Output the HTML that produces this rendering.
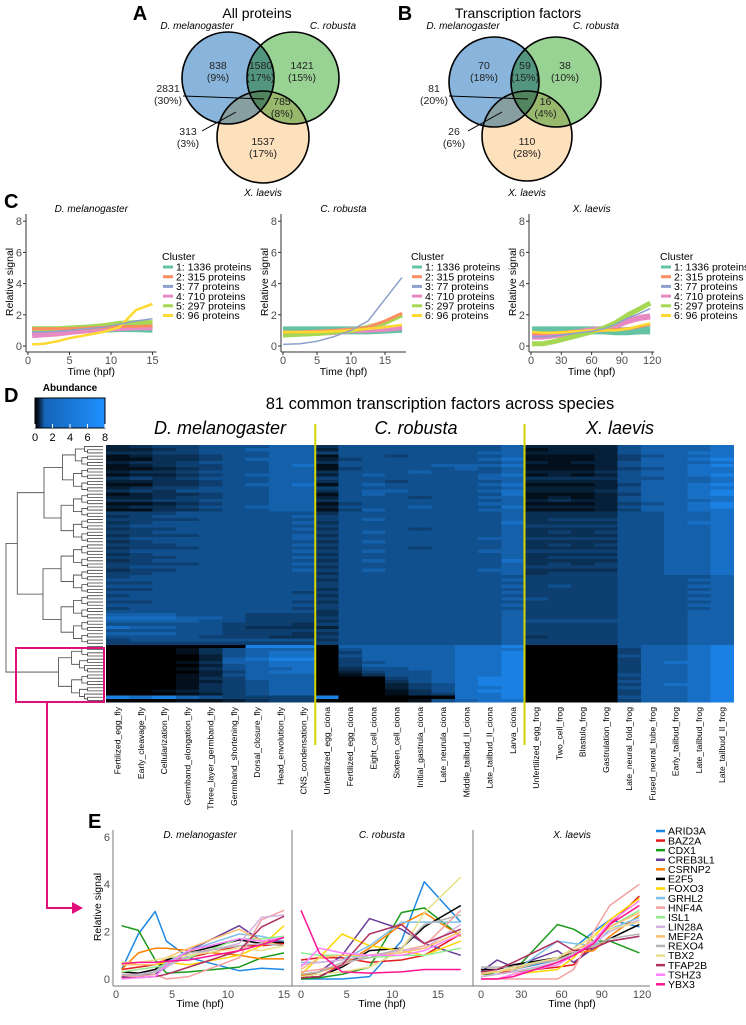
<!DOCTYPE html>
<html><head><meta charset="utf-8"><style>
body{margin:0;background:#fff;width:746px;height:1020px;overflow:hidden}
svg{font-family:"Liberation Sans",sans-serif}
</style></head><body>
<svg id="fig" width="746" height="1020" viewBox="0 0 746 1020" xmlns="http://www.w3.org/2000/svg">
<defs>
<linearGradient id="abgrad" x1="0" x2="1" y1="0" y2="0">
<stop offset="0" stop-color="#000"/><stop offset="0.05" stop-color="#061a33"/><stop offset="0.14" stop-color="#1565b8"/><stop offset="1" stop-color="#1e90ff"/>
</linearGradient>
</defs>
<g id="venns"></g>
<g id="panelC"></g>
<g id="panelD"></g>
<g id="panelE"></g>
</svg>
<script>
// ---------- DATA ----------
const vennA = ["838\n(9%)","1580\n(17%)","1421\n(15%)","2831\n(30%)","785\n(8%)","313\n(3%)","1537\n(17%)"];
const vennB = ["70\n(18%)","59\n(15%)","38\n(10%)","81\n(20%)","16\n(4%)","26\n(6%)","110\n(28%)"];
const clusterNames = ["1: 1336 proteins","2: 315 proteins","3: 77 proteins","4: 710 proteins","5: 297 proteins","6: 96 proteins"];
const flyTimeC = [0.5,2,3.5,5,7,9,11,13,15];
const flyClusters = [
 [1.0,1.0,1.0,1.05,1.1,1.1,1.15,1.15,1.1],
 [1.1,1.1,1.1,1.1,1.15,1.2,1.25,1.25,1.3],
 [0.9,0.9,0.95,1.0,1.1,1.2,1.4,1.6,1.75],
 [0.7,0.75,0.8,0.9,1.0,1.1,1.15,1.2,1.2],
 [1.1,1.1,1.1,1.15,1.2,1.3,1.45,1.5,1.5],
 [0.1,0.15,0.3,0.5,0.7,0.9,1.2,2.3,2.7]];
const cionaTimeC = [0,2.5,5,7.5,10,12.5,15,17.5];
const cionaClusters = [
 [1.0,1.0,1.0,1.0,1.0,1.0,1.05,1.1],
 [0.9,0.9,0.95,1.0,1.05,1.2,1.6,2.1],
 [0.1,0.15,0.3,0.6,1.0,1.6,3.0,4.4],
 [0.8,0.8,0.85,0.9,1.0,1.05,1.1,1.2],
 [0.7,0.75,0.8,0.9,1.0,1.2,1.5,2.0],
 [0.9,0.9,0.9,0.95,1.0,1.1,1.2,1.35]];
const frogTimeC = [1,12,24,36,48,60,72,84,96,108,118];
const frogClusters = [
 [1.0,1.0,1.0,1.0,1.0,1.0,1.0,0.95,0.95,1.0,1.0],
 [0.8,0.8,0.85,0.9,0.95,1.0,1.0,1.05,1.1,1.25,1.4],
 [0.6,0.6,0.65,0.75,0.85,0.95,1.1,1.4,1.8,2.1,2.4],
 [0.6,0.6,0.7,0.8,0.9,1.0,1.1,1.3,1.6,1.8,1.9],
 [0.15,0.15,0.3,0.5,0.7,0.9,1.15,1.5,2.0,2.4,2.75],
 [0.9,0.85,0.85,0.9,0.95,1.0,1.0,1.0,1.1,1.3,1.45]];
const yTicksC = [0,2,4,6,8];
const flyTicks = [0,5,10,15];
const cionaTicks = [0,5,10,15];
const frogTicks = [0,30,60,90,120];

const colLabels = ["Fertilized_egg_fly","Early_cleavage_fly","Cellularization_fly","Germband_elongation_fly","Three_layer_germband_fly","Germband_shortening_fly","Dorsal_closure_fly","Head_envolution_fly","CNS_condensation_fly",
"Unfertilized_egg_ciona","Fertilized_egg_ciona","Eight_cell_ciona","Sixteen_cell_ciona","Initial_gastrula_ciona","Late_neurula_ciona","Middle_tailbud_II_ciona","Late_tailbud_II_ciona","Larva_ciona",
"Unfertilized_egg_frog","Two_cell_frog","Blastula_frog","Gastrulation_frog","Late_neural_fold_frog","Fused_neural_tube_frog","Early_tailbud_frog","Late_tailbud_frog","Late_tailbud_II_frog"];
const heatRows = [
"234455566355555556222256667","223455666255555556122256667","334455566455555566222256677","123345566155455556111245667",
"113345666245555567111246678","233455566355555556212256667","123445567155556667111256678","112345566145555656111245677",
"233455566355565556222356677","122345666256555567121256678","343455566455555566333355667","223345566355455556222256667",
"113345667156555567111246678","234455566455555556222256677","343555566356655567222356678","123345566156555557111246678",
"223445566255545566121256677","334455566355555556232256667","112345566145555566111245678","233455666255565557222256678",
"113345566146555566111246677","444555555355555556333355667","345555556455555556333355667","444455555456555556344455667",
"345555556355555557333355677","455555555455555556444455667","344555556355545556333355667","445555555456555556343455667",
"344455556355555556333355667","455555556455555566444455667","345555555356555556333355667","444555556455555556343455667",
"344455555355545556333355667","455555556456555566444455667","345555555355555556333355667","444555556455555556344455667",
"345555555356555557333355667","444455556455555556343455667","455555555355555556444455667","344555556456555566333355667",
"445555555355555556344455667","455555555455555555444455556","555555555355555556444455566","445555555455555555444455556",
"555555555455555556454455566","445555555355555555444455556","555555554455555556444455566","455555555355555555444455556",
"555555555455555556544455566","445555554355555555444455556","555555555455555556444455566","455555554455555555444455556",
"555555555355555556444455566","666555444355555556444455566","777665444455555556444455566","666655444355555556555555566",
"555554443455555556444455566","766554333255555556444455566","555554444455555556444455566","666554443355555556444455566",
"555544433455555556344455566","455555555355555556444455566","444444444455555556444455566",
"000000888066666778000056678","000135666056666777000046678","000135677046666778000046678","000025677056666778000056678",
"000026788046666778000046678","000136677045666778000046778","000025677046666778000046678","000135667035566778000046678",
"000024677024556778000046678","000125666013556778000056678","000134666000456788000046678","000124566000356788000056678",
"000134566000245788000046778","000134566000245778000056678","001234566000135788000046678","000124566000134778000046678",
"878654444800000778000056678","000112344000015677000046678"];
const abundTicks = [0,2,4,6,8];

const genes = ["ARID3A","BAZ2A","CDX1","CREB3L1","CSRNP2","E2F5","FOXO3","GRHL2","HNF4A","ISL1","LIN28A","MEF2A","REXO4","TBX2","TFAP2B","TSHZ3","YBX3"];
const geneColors = ["#1e88e5","#e41a1c","#1a9a1a","#6a3d9a","#ff7f00","#000000","#ffd700","#7fbfea","#f4a0a0","#90ee90","#d4b0e0","#fdbf6f","#b4b4b4","#e8e08a","#b03060","#ff80ff","#ff1493"];
const flyTimeE = [0.5,2,3.5,4.5,6.5,11,13,15];
const flyGenes = [
[0.4,1.9,2.85,1.6,0.9,0.35,0.45,0.4],[0.4,0.5,0.6,0.8,0.9,1.4,1.4,1.5],[2.25,2.05,0.8,0.25,0.3,0.5,0.9,1.1],
[0.1,0.15,0.2,0.5,1.2,2.25,1.6,1.6],[0.4,1.1,1.3,1.3,1.2,1.0,0.85,0.85],[0.3,0.25,0.4,0.8,1.1,1.65,1.5,1.55],
[0.7,0.6,0.6,0.7,0.6,1.0,1.4,2.25],[0.2,0.2,0.3,0.7,1.2,1.9,1.8,1.6],[0.15,0.1,0.2,0.0,0.1,0.9,2.5,2.9],
[0.3,0.4,0.5,0.6,0.9,1.7,1.7,1.8],[0.2,0.2,0.3,0.5,1.0,1.5,2.6,2.7],[0.6,0.6,0.6,0.9,1.3,2.1,1.6,1.4],
[0.2,0.15,0.3,0.6,1.1,1.4,1.5,1.4],[0.7,0.7,0.8,0.9,1.0,1.3,1.2,1.4],[0.05,0.05,0.1,0.2,0.5,1.2,2.2,2.65],
[0.0,0.05,0.1,0.6,1.2,1.7,1.6,1.75],[0.65,0.7,0.7,0.75,0.8,1.2,1.45,1.75]];
const cionaTimeE = [0,2,4.5,7.5,11,13.5,17.5];
const cionaGenes = [
[0.0,0.0,0.0,0.1,1.6,4.1,2.4],[0.8,0.9,0.9,0.7,0.8,1.0,1.9],[0.0,0.05,0.2,0.5,2.8,3.0,1.8],
[0.1,0.3,1.0,2.55,2.1,1.5,1.0],[0.15,0.3,0.6,1.3,2.3,2.8,1.8],[0.05,0.1,0.5,1.2,1.3,2.2,3.1],
[0.2,0.9,1.9,1.4,1.2,1.0,1.6],[0.7,0.7,0.8,1.4,2.4,2.4,2.4],[0.3,0.4,0.6,1.0,1.2,1.4,2.9],
[1.1,1.0,1.0,0.9,1.0,1.0,1.3],[0.6,0.7,0.8,1.0,1.2,1.3,2.3],[0.4,0.9,1.0,1.0,1.1,1.3,2.0],
[0.2,0.3,0.7,0.9,1.3,2.3,2.7],[0.1,0.2,0.3,0.5,1.2,2.8,4.3],[0.05,0.1,0.6,1.9,2.3,1.5,2.1],
[0.5,1.3,1.1,1.0,1.0,1.2,1.9],[2.9,1.1,0.3,0.25,0.3,0.4,0.4]];
const frogTimeE = [0,12,24,57,69,84,96,118];
const frogGenes = [
[0.2,0.3,0.4,0.8,1.3,2.0,2.5,2.2],[0.3,0.3,0.3,0.5,0.6,1.5,2.3,3.5],[0.2,0.2,0.3,2.3,2.1,1.6,1.6,1.1],
[0.3,0.8,0.5,1.2,0.7,1.3,1.6,1.8],[0.3,0.3,0.5,0.8,1.1,1.2,1.8,2.7],[0.4,0.4,0.6,0.9,1.1,1.4,1.7,2.3],
[0.0,0.0,0.2,0.4,0.9,1.8,2.5,3.4],[0.1,0.2,0.3,1.6,1.5,1.4,2.1,2.6],[0.0,0.0,0.0,0.0,0.4,2.0,3.1,4.0],
[0.1,0.2,0.3,0.6,1.0,1.6,2.2,2.9],[0.1,0.2,0.3,0.7,1.1,1.5,2.0,2.5],[0.2,0.3,0.4,0.9,1.2,1.6,2.2,2.8],
[0.5,0.5,0.5,0.8,1.1,1.4,1.7,1.9],[0.3,0.3,0.5,0.9,1.3,1.8,2.1,2.4],[0.3,0.4,0.7,1.6,1.2,1.3,1.6,1.8],
[0.0,0.0,0.2,0.6,1.0,1.6,2.4,3.3],[0.0,0.0,0.1,0.7,1.0,1.5,2.3,3.1]];
const yTicksE = [0,2,4,6];

// ---------- HELPERS ----------
const NS="http://www.w3.org/2000/svg";
function mk(parent,tag,attrs,text){const e=document.createElementNS(NS,tag);for(const k in attrs)e.setAttribute(k,attrs[k]);if(text!==undefined)e.textContent=text;parent.appendChild(e);return e;}
function txt(parent,x,y,s,size,opts){opts=opts||{};const e=mk(parent,'text',{x:x,y:y,'font-size':size,'text-anchor':opts.anchor||'middle',fill:opts.fill||'#000'},s);
 if(opts.italic)e.setAttribute('font-style','italic');if(opts.bold)e.setAttribute('font-weight','bold');if(opts.rot)e.setAttribute('transform','rotate('+opts.rot+' '+x+' '+y+')');
 
 
 return e;}

// ---------- VENN ----------
const V=document.getElementById('venns');
function venn(ox,data,circ,title,letter,letterX){
 const g=mk(V,'g',{});
 
 
 txt(g,letterX,20,letter,20,{bold:true,name:'panel-letter'});
 txt(g,ox+30,18,title,14,{name:'venn-title'});
 const cols=['#89b5dc','#99d394','#fde0bc'];
 const gg=mk(g,'g',{style:'isolation:isolate'});
 circ.forEach((c,i)=>{const e=mk(gg,'circle',{cx:c[0],cy:c[1],r:c[2],fill:cols[i],style:'mix-blend-mode:multiply'});
  
  });
 circ.forEach(c=>mk(g,'circle',{cx:c[0],cy:c[1],r:c[2],fill:'none',stroke:'#000','stroke-width':1.6}));
 const [b,gr,o]=circ;
 txt(g,b[0]-31,29,'D. melanogaster',10,{italic:true,name:'venn-label'});
 txt(g,gr[0]+40,29,'C. robusta',10,{italic:true,name:'venn-label'});
 txt(g,o[0],196,'X. laevis',10,{italic:true,name:'venn-label'});
 const pos=[[b[0]-10,69],[ (b[0]+gr[0])/2,69],[gr[0]+9,69],[b[0]-60,92],[ (gr[0]+o[0])/2+4,105],[b[0]-40,135],[o[0],145]];
 data.forEach((d,i)=>{const p=d.split('\n');txt(g,pos[i][0],pos[i][1],p[0],10.5,{fill:'#222',name:'venn-count'});txt(g,pos[i][0],pos[i][1]+12,p[1],10.5,{fill:'#222',name:'venn-pct'});});
 mk(g,'line',{x1:b[0]-45,y1:96,x2:o[0]+1,y2:99,stroke:'#000','stroke-width':1});
 mk(g,'line',{x1:b[0]-26,y1:131,x2:b[0]+8,y2:112,stroke:'#000','stroke-width':1});
}
venn(227,vennA,[[228,78,46],[293,78,46],[263,137,46]],'All proteins','A',140);
venn(488,vennB,[[494,82,45],[556,82,45],[527,136,45]],'Transcription factors','B',405);

// ---------- PANEL C ----------
const C=document.getElementById('panelC');
txt(C,4,208,'C',20,{bold:true,anchor:'start',name:'panel-letter'});
const cColors=['#66c2a5','#fc8d62','#8da0cb','#e78ac3','#a6d854','#ffd92f'];
const cWidths=[8,3,1.5,6,5,2.5];
const cOrder=[0,3,4,1,5,2];
function clusterPlot(x0,xPerUnit,xmax,times,series,ticks,title,legX){
 const g=mk(C,'g',{});
 
 
 const y0=346,ypu=15.6;
 const sx=v=>x0+v*xPerUnit, sy=v=>y0-v*ypu;
 const axL=x0-2, axR=sx(xmax)+4;
 mk(g,'line',{x1:axL,y1:214,x2:axL,y2:352,stroke:'#333','stroke-width':1});
 mk(g,'line',{x1:axL,y1:352,x2:axR,y2:352,stroke:'#333','stroke-width':1});
 yTicksC.forEach(t=>{mk(g,'line',{x1:axL-3,y1:sy(t),x2:axL,y2:sy(t),stroke:'#333'});txt(g,axL-4,sy(t)+4,String(t),11,{anchor:'end',fill:'#4d4d4d',name:'y-tick'});});
 ticks.forEach(t=>{mk(g,'line',{x1:sx(t),y1:352,x2:sx(t),y2:355,stroke:'#333'});txt(g,sx(t),364,String(t),11,{fill:'#4d4d4d',name:'x-tick'});});
 txt(g,(axL+axR)/2,375,'Time (hpf)',10.5,{name:'x-axis-title'});
 txt(g,axL-13,282,'Relative signal',10.5,{rot:-90,name:'y-axis-title'});
 txt(g,(axL+axR)/2,212,title,10,{italic:true,name:'plot-title'});
 cOrder.forEach(i=>{const d=series[i].map((v,j)=>(j?'L':'M')+sx(times[j]).toFixed(1)+','+sy(v).toFixed(1)).join('');
  const p=mk(g,'path',{d:d,fill:'none',stroke:cColors[i],'stroke-width':cWidths[i],'stroke-linejoin':'round'});
  
  });
 txt(g,legX,260,'Cluster',10.5,{anchor:'start',name:'legend-title'});
 clusterNames.forEach((n,i)=>{const y=267+i*9.7;mk(g,'line',{x1:legX+1,y1:y,x2:legX+11,y2:y,stroke:cColors[i],'stroke-width':3});
  txt(g,legX+14,y+3.7,n,10.5,{anchor:'start',name:'legend-entry'});});
}
clusterPlot(28,8.3,15,flyTimeC,flyClusters,flyTicks,'D. melanogaster',162);
clusterPlot(283,6.8,17.5,cionaTimeC,cionaClusters,cionaTicks,'C. robusta',411);
clusterPlot(531,1.01,118,frogTimeC,frogClusters,frogTicks,'X. laevis',660);

// ---------- PANEL D ----------
const D=document.getElementById('panelD');
txt(D,4,402,'D',20,{bold:true,anchor:'start',name:'panel-letter'});
txt(D,70,391,'Abundance',10,{bold:true,name:'legend-title'});
const cb=mk(D,'rect',{x:35,y:398,width:70,height:30,fill:'url(#abgrad)',stroke:'#000','stroke-width':1});

abundTicks.forEach(t=>{const x=35+t/8*70;mk(D,'line',{x1:x,y1:424,x2:x,y2:428,stroke:'#fff'});txt(D,x,441,String(t),11,{name:'colorbar-tick'});});
txt(D,440,409,'81 common transcription factors across species',16.5,{name:'heatmap-title'});
txt(D,220,434,'D. melanogaster',18,{italic:true,name:'species-label'});
txt(D,416,434,'C. robusta',18,{italic:true,name:'species-label'});
txt(D,620,434,'X. laevis',18,{italic:true,name:'species-label'});
const hx0=106,hy0=445,cw=23.25,rh=(702-445)/heatRows.length;
function heatColor(v){const f=v/9;return 'rgb('+Math.round(30*f)+','+Math.round(144*f)+','+Math.round(255*f)+')';}
const hg=mk(D,'g',{'shape-rendering':'crispEdges'});

heatRows.forEach((row,r)=>{for(let c=0;c<row.length;c++){const e=mk(hg,'rect',{x:(hx0+c*cw).toFixed(2),y:(hy0+r*rh).toFixed(2),width:cw+0.4,height:rh+0.4,fill:heatColor(+row[c])});
 
 }});
colLabels.forEach((l,c)=>{txt(D,hx0+c*cw+cw/2+3,707,l,8.6,{anchor:'end',rot:-90,name:'column-label'});});
[hx0+9*cw,hx0+18*cw].forEach(x=>{const e=mk(D,'line',{x1:x,y1:424,x2:x,y2:745,stroke:'#d4d400','stroke-width':2});
 });
// dendrogram
const dg=mk(D,'g',{stroke:'#444','stroke-width':0.8,fill:'none'});

function node(a,b){ // returns [y, x]
 const n=b-a+1; if(n===1)return [hy0+(a+0.5)*rh,103];
 const m=a+Math.floor(n/2)-1;
 const L=node(a,m),R=node(m+1,b);
 const x=103-95*Math.pow(n/81,0.55)-3;
 mk(dg,'path',{d:'M'+L[1]+','+L[0]+'H'+x+'V'+R[0]+'H'+R[1]});
 return [(L[0]+R[0])/2,x];}
(function(){const L=node(0,62),R=node(63,80);mk(dg,'path',{d:'M'+L[1]+','+L[0]+'H6V'+R[0]+'H'+R[1]});})();
const box=mk(D,'rect',{x:16,y:648,width:88,height:54,fill:'none',stroke:'#e0107a','stroke-width':2});

mk(D,'path',{d:'M47,702V908H73',fill:'none',stroke:'#e0107a','stroke-width':2});
mk(D,'polygon',{points:'72,902 83,908 72,914',fill:'#e0107a'});

// ---------- PANEL E ----------
const E=document.getElementById('panelE');
txt(E,88,828,'E',20,{bold:true,anchor:'start',name:'panel-letter'});
const ey0=979,eypu=23.7, eTop=830, eBot=986;
mk(E,'line',{x1:113,y1:eTop,x2:113,y2:eBot,stroke:'#777'});
mk(E,'line',{x1:113,y1:eBot,x2:650,y2:eBot,stroke:'#777'});
mk(E,'line',{x1:292,y1:eTop,x2:292,y2:eBot,stroke:'#777'});
mk(E,'line',{x1:473,y1:eTop,x2:473,y2:eBot,stroke:'#777'});
yTicksE.forEach(t=>txt(E,110,ey0-t*eypu+4,String(t),11,{anchor:'end',fill:'#4d4d4d',name:'y-tick'}));
txt(E,101,907,'Relative signal',10.5,{rot:-90,name:'y-axis-title'});
function genePlot(x0,xpu,times,series,ticks,title,cx){
 const g=mk(E,'g',{});
 
 const sx=v=>x0+v*xpu, sy=v=>ey0-v*eypu;
 txt(g,cx,838,title,10,{italic:true,name:'plot-title'});
 ticks.forEach(t=>txt(g,sx(t),998,String(t),11,{fill:'#4d4d4d',name:'x-tick'}));
 txt(g,cx,1007,'Time (hpf)',10.5,{name:'x-axis-title'});
 series.forEach((s,i)=>{const d=s.map((v,j)=>(j?'L':'M')+sx(times[j]).toFixed(1)+','+sy(v).toFixed(1)).join('');
  const p=mk(g,'path',{d:d,fill:'none',stroke:geneColors[i],'stroke-width':1.5,'stroke-linejoin':'round'});
  
  });
}
genePlot(116,11.2,flyTimeE,flyGenes,flyTicks,'D. melanogaster',200);
genePlot(301,9.13,cionaTimeE,cionaGenes,cionaTicks,'C. robusta',382);
genePlot(481,1.342,frogTimeE,frogGenes,frogTicks,'X. laevis',572);
genes.forEach((n,i)=>{const y=831+i*9.58;mk(E,'line',{x1:656,y1:y,x2:665,y2:y,stroke:geneColors[i],'stroke-width':2.5});
 txt(E,668,y+3.7,n,10.5,{anchor:'start',name:'legend-entry'});});
</script>
</body></html>
